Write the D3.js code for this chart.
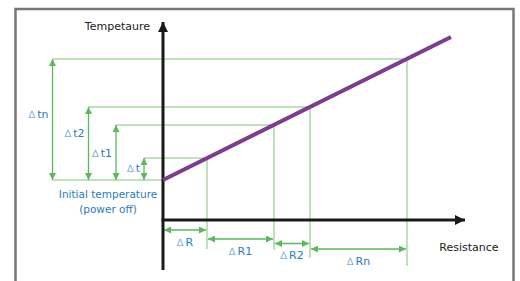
<!DOCTYPE html>
<html>
<head>
<meta charset="utf-8">
<script src="https://cdn.jsdelivr.net/npm/d3@7"></script>
<style>
  body { margin: 0; background: #fff; }
  text { font-family: "DejaVu Sans", Verdana, sans-serif; }
</style>
</head>
<body>
<div id="chart"></div>
<script>
// Steps on the resistance axis and the matching temperatures.
const stepNames = ["", "R", "R1", "R2", "Rn"];
const tNames = ["", "t", "t1", "t2", "tn"];
const resistance = [0, 44, 111, 147, 244];
const temperature = [40, 62, 95, 113, 161];
// End of the purple line.
const lineEnd = [288, 183];
const axisLabels = { y: "Tempetaure", x: "Resistance" };
const initialLabel = ["Initial temperature", "(power off)"];

const width = 520, height = 281;
const purple = "#7d3c8c", lightGreen = "#aad8a6", green = "#5cb85c";
const blue = "#2b7cbd", lightBlue = "#82b3de";

const svg = d3.select("#chart").append("svg")
  .attr("width", width)
  .attr("height", height);

// Frame around the picture.
svg.append("rect")
  .attr("x", 15.5).attr("y", 9)
  .attr("width", 498).attr("height", 290)
  .attr("fill", "none")
  .attr("stroke", "#777")
  .attr("stroke-width", 2.5);

// Scales: the origin sits at x = 163, y = 220.
const x = d3.scaleLinear().domain([0, 302]).range([163, 465]);
const y = d3.scaleLinear().domain([-50, 198]).range([270, 22]);

const defs = svg.append("defs");
defs.append("marker")
  .attr("id", "blackArrow")
  .attr("viewBox", "0 0 10 10")
  .attr("refX", 10).attr("refY", 5)
  .attr("markerUnits", "userSpaceOnUse")
  .attr("markerWidth", 11).attr("markerHeight", 10)
  .attr("orient", "auto")
  .append("path").attr("d", "M0,0L10,5L0,10Z").attr("fill", "#1a1a1a");
defs.append("marker")
  .attr("id", "greenArrow")
  .attr("viewBox", "0 0 10 10")
  .attr("refX", 10).attr("refY", 5)
  .attr("markerUnits", "userSpaceOnUse")
  .attr("markerWidth", 7).attr("markerHeight", 7)
  .attr("orient", "auto-start-reverse")
  .append("path").attr("d", "M0,0L10,5L0,10Z").attr("fill", green);

// Where the Δt arrows stand (pixels) and how far below the x axis the ΔR arrows go.
const tArrowX = [null, 144, 116, 88.5, 52.5];
const rArrowDy = [null, 10, 19, 23.5, 29];
const rLineBottom = [null, 249, 250, 258, 266];
const tLabelY = [null, 168, 153, 133, 114];

const x0 = x(0), y0 = y(temperature[0]);

// Light green guide lines: horizontal from the Δt arrow to the curve, then down.
for (let i = 1; i < resistance.length; i++) {
  const px = x(resistance[i]), py = y(temperature[i]);
  svg.append("path")
    .attr("d", `M${tArrowX[i]},${py}H${px}V${rLineBottom[i]}`)
    .attr("fill", "none")
    .attr("stroke", lightGreen)
    .attr("stroke-width", 1.5);
}
// Base line at the initial temperature.
svg.append("line")
  .attr("x1", tArrowX[4]).attr("x2", x0)
  .attr("y1", y0).attr("y2", y0)
  .attr("stroke", lightGreen)
  .attr("stroke-width", 1.5);

// Δt arrows (double headed).
for (let i = 1; i < resistance.length; i++) {
  svg.append("line")
    .attr("x1", tArrowX[i]).attr("x2", tArrowX[i])
    .attr("y1", y(temperature[i])).attr("y2", y0)
    .attr("stroke", green)
    .attr("stroke-width", 1.3)
    .attr("marker-start", "url(#greenArrow)")
    .attr("marker-end", "url(#greenArrow)");
  const t = svg.append("text")
    .attr("x", tArrowX[i] - 4)
    .attr("y", tLabelY[i])
    .attr("dy", "0.35em")
    .attr("text-anchor", "end")
    .attr("font-size", "11px")
    .attr("fill", blue);
  t.append("tspan").attr("fill", lightBlue).attr("font-size", "10px").text("∆");
  t.append("tspan").attr("dx", 2).text(tNames[i]);
}

// ΔR arrows between consecutive resistance steps.
for (let i = 1; i < resistance.length; i++) {
  const ay = y(0) + rArrowDy[i];
  const xa = x(resistance[i - 1]), xb = x(resistance[i]);
  svg.append("line")
    .attr("x1", xa + 1).attr("x2", xb - 1)
    .attr("y1", ay).attr("y2", ay)
    .attr("stroke", green)
    .attr("stroke-width", 1.3)
    .attr("marker-start", "url(#greenArrow)")
    .attr("marker-end", "url(#greenArrow)");
  const t = svg.append("text")
    .attr("x", (xa + xb) / 2)
    .attr("y", ay + 12)
    .attr("dy", "0.35em")
    .attr("text-anchor", "middle")
    .attr("font-size", "11px")
    .attr("fill", blue);
  t.append("tspan").attr("fill", lightBlue).attr("font-size", "10px").text("∆");
  t.append("tspan").attr("dx", 2).text(stepNames[i]);
}

// Axes.
svg.append("line")
  .attr("x1", x0).attr("x2", x0)
  .attr("y1", y(-50)).attr("y2", y(198))
  .attr("stroke", "#1a1a1a")
  .attr("stroke-width", 3)
  .attr("marker-end", "url(#blackArrow)");
svg.append("line")
  .attr("x1", x0 - 1.5).attr("x2", x(302))
  .attr("y1", y(0)).attr("y2", y(0))
  .attr("stroke", "#1a1a1a")
  .attr("stroke-width", 3)
  .attr("marker-end", "url(#blackArrow)");

svg.append("text")
  .attr("x", x0 - 13).attr("y", 26)
  .attr("dy", "0.35em")
  .attr("text-anchor", "end")
  .attr("font-size", "11px")
  .attr("fill", "#222")
  .text(axisLabels.y);
svg.append("text")
  .attr("x", 469).attr("y", 247)
  .attr("dy", "0.35em")
  .attr("text-anchor", "middle")
  .attr("font-size", "11px")
  .attr("fill", "#222")
  .text(axisLabels.x);

// Initial temperature label.
initialLabel.forEach((s, i) => {
  svg.append("text")
    .attr("x", 108).attr("y", 194.5 + i * 15)
    .attr("dy", "0.35em")
    .attr("text-anchor", "middle")
    .attr("font-size", "10.5px")
    .attr("fill", blue)
    .text(s);
});

// Purple temperature / resistance line.
svg.append("line")
  .attr("x1", x(0)).attr("y1", y(temperature[0]))
  .attr("x2", x(lineEnd[0])).attr("y2", y(lineEnd[1]))
  .attr("stroke", purple)
  .attr("stroke-width", 4);
</script>
</body>
</html>
